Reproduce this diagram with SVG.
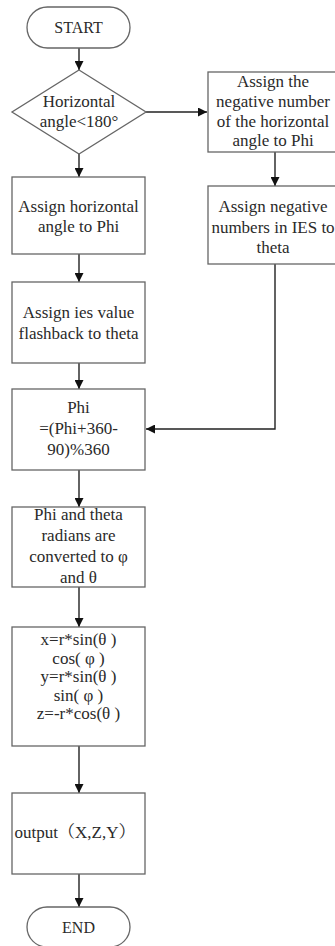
<svg xmlns="http://www.w3.org/2000/svg" width="335" height="946" viewBox="0 0 335 946">
<style>
.n{fill:#fff;stroke:#666;stroke-width:1.3}
.t{font-family:"Liberation Serif","Noto Serif CJK SC","Noto Sans CJK SC",serif;font-size:17px;fill:#2a2a2a;text-anchor:middle}
.c{fill:none;stroke:#222;stroke-width:1.4}
</style>
<defs>
<marker id="a" viewBox="0 0 10 10" refX="10" refY="5" markerWidth="9" markerHeight="9" markerUnits="userSpaceOnUse" orient="auto">
<path d="M0,0L10,5L0,10z" fill="#111"/>
</marker>
</defs>
<rect width="335" height="946" fill="#fff"/>
<g id="connectors">
<path class="c" d="M79,48V70" marker-end="url(#a)"/>
<path class="c" d="M146,112H207" marker-end="url(#a)"/>
<path class="c" d="M79,154V177" marker-end="url(#a)"/>
<path class="c" d="M275,152V186" marker-end="url(#a)"/>
<path class="c" d="M79,254V282" marker-end="url(#a)"/>
<path class="c" d="M79,363V389" marker-end="url(#a)"/>
<path class="c" d="M275,264V429H146" marker-end="url(#a)"/>
<path class="c" d="M79,470V507" marker-end="url(#a)"/>
<path class="c" d="M79,587V627" marker-end="url(#a)"/>
<path class="c" d="M79,746V793" marker-end="url(#a)"/>
<path class="c" d="M79,874V907" marker-end="url(#a)"/>
</g>
<g id="start">
<rect class="n" x="27" y="7" width="103" height="41" rx="20.5"/>
<text class="t" x="78.5" y="33" style="font-size:16px">START</text>
</g>
<g id="decision">
<path class="n" d="M79,70L146,112L79,154L12,112Z"/>
<text class="t" x="79" y="107">Horizontal</text>
<text class="t" x="79" y="127">angle&lt;180°</text>
</g>
<g id="neg-phi">
<rect class="n" x="208" y="72" width="134" height="80"/>
<text class="t" x="273" y="87">Assign the</text>
<text class="t" x="273" y="107">negative number</text>
<text class="t" x="273" y="127">of the horizontal</text>
<text class="t" x="273" y="146">angle to Phi</text>
</g>
<g id="neg-theta">
<rect class="n" x="208" y="186" width="134" height="78"/>
<text class="t" x="273" y="212">Assign negative</text>
<text class="t" x="273" y="233">numbers in IES to</text>
<text class="t" x="273" y="253">theta</text>
</g>
<g id="assign-phi">
<rect class="n" x="12" y="177" width="133" height="77"/>
<text class="t" x="78.5" y="212">Assign horizontal</text>
<text class="t" x="78.5" y="232">angle to Phi</text>
</g>
<g id="assign-theta">
<rect class="n" x="12" y="282" width="133" height="81"/>
<text class="t" x="78.5" y="318">Assign ies value</text>
<text class="t" x="78.5" y="339">flashback to theta</text>
</g>
<g id="phi-mod">
<rect class="n" x="12" y="389" width="133" height="81"/>
<text class="t" x="78.5" y="413">Phi</text>
<text class="t" x="78.5" y="434">=(Phi+360-</text>
<text class="t" x="78.5" y="455">90)%360</text>
</g>
<g id="radians">
<rect class="n" x="12" y="507" width="133" height="80"/>
<text class="t" x="78.5" y="520">Phi and theta</text>
<text class="t" x="78.5" y="541">radians are</text>
<text class="t" x="78.5" y="562">converted to φ</text>
<text class="t" x="78.5" y="583">and θ</text>
</g>
<g id="xyz">
<rect class="n" x="12" y="627" width="133" height="119"/>
<text class="t" x="78.5" y="645">x=r*sin(θ )</text>
<text class="t" x="78.5" y="664">cos( φ )</text>
<text class="t" x="78.5" y="682">y=r*sin(θ )</text>
<text class="t" x="78.5" y="701">sin( φ )</text>
<text class="t" x="78.5" y="719">z=-r*cos(θ )</text>
</g>
<g id="output">
<rect class="n" x="12" y="793" width="133" height="81"/>
<text class="t" x="75" y="838">output（X,Z,Y）</text>
</g>
<g id="end">
<rect class="n" x="27" y="907" width="103" height="40" rx="20"/>
<text class="t" x="78.5" y="933" style="font-size:16px">END</text>
</g>
</svg>
